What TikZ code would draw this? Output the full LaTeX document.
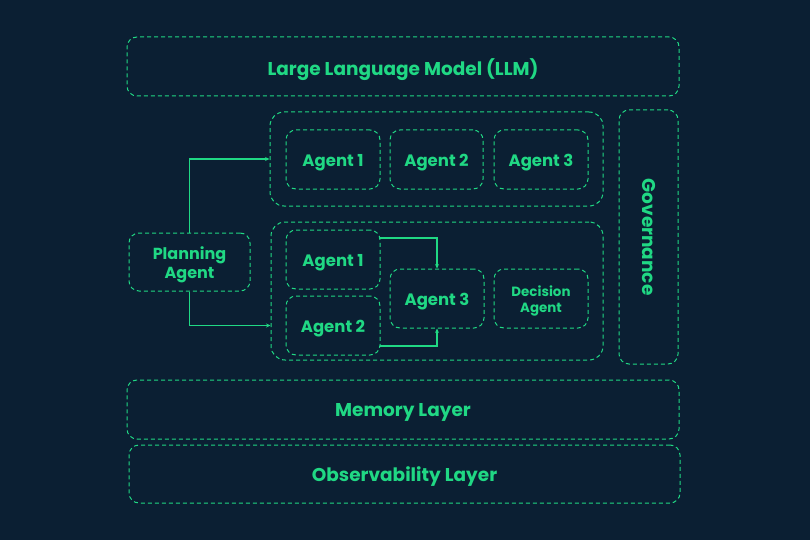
\documentclass[tikz,border=0pt]{standalone}
\usepackage{fontspec}
\setmainfont{Poppins}[BoldFont={Poppins Bold}]
\usetikzlibrary{arrows.meta,calc}
\definecolor{bg}{HTML}{0B1F33}
\definecolor{gr}{HTML}{20D884}
\tikzset{
  box/.style={draw=gr,line width=1pt,dash pattern=on 4pt off 3pt,rounded corners=10pt,inner sep=0pt},
  txt/.style={text=gr,align=center,inner sep=0pt,yshift=-3pt,font=\bfseries\fontsize{16.5}{19}\selectfont},
  big/.style={font=\bfseries\fontsize{18.5}{22}\selectfont},
  grp/.style={draw=gr,line width=1pt,dash pattern=on 4pt off 3pt,rounded corners=14pt,inner sep=0pt},
  conn/.style={draw=gr,line width=1.1pt,-{Stealth[length=4.5pt,width=4pt]}},
}
\begin{document}
\begin{tikzpicture}[x=1pt,y=-1pt]
\fill[bg] (0,0) rectangle (810,540);
\useasboundingbox (0,0) rectangle (810,540);
\node[box,minimum width=552,minimum height=59] (llm) at (403,66.5) {};
\node[txt,big] (llmt) at (llm.center) {Large Language Model (LLM)};
\node[grp,minimum width=333,minimum height=94] (tg) at (436.5,159) {};
\node[box,minimum width=94,minimum height=59] (t1) at (333,159.5) {};
\node[txt] (t1t) at (t1.center) {Agent 1};
\node[box,minimum width=93,minimum height=59] (t2) at (436.5,159.5) {};
\node[txt] (t2t) at (t2.center) {Agent 2};
\node[box,minimum width=94,minimum height=59] (t3) at (541,159.5) {};
\node[txt] (t3t) at (t3.center) {Agent 3};
\node[grp,minimum width=332,minimum height=138] (bg) at (437,291) {};
\node[box,minimum width=94,minimum height=59] (b1) at (333,259.5) {};
\node[txt] (b1t) at (b1.center) {Agent 1};
\node[box,minimum width=94,minimum height=59] (b2) at (333,325.5) {};
\node[txt] (b2t) at (b2.center) {Agent 2};
\node[box,minimum width=94,minimum height=59] (b3) at (437,298.5) {};
\node[txt] (b3t) at (b3.center) {Agent 3};
\node[box,minimum width=94,minimum height=59] (dec) at (541,298.5) {};
\node[txt,yshift=1pt,font=\bfseries\fontsize{13.4}{16}\selectfont] (dect) at (dec.center) {Decision\\Agent};
\node[box,minimum width=121,minimum height=58] (plan) at (189.5,262) {};
\node[txt,yshift=0.5pt,font=\bfseries\fontsize{16}{19}\selectfont] (plant) at (plan.center) {Planning\\Agent};
\node[box,minimum width=59,minimum height=254] (gov) at (648.5,237) {};
\node[text=gr,big,rotate=-90] (govt) at (gov.center) {Governance};
\node[box,minimum width=552,minimum height=59] (mem) at (403,409.5) {};
\node[txt,big] (memt) at (mem.center) {Memory Layer};
\node[box,minimum width=551,minimum height=58] (obs) at (404.5,474) {};
\node[txt,big] (obst) at (obs.center) {Observability Layer};
\draw[conn] (plan.north) |- (tg.west);
\draw[conn] (plan.south) |- (bg.west |- b2.west);
\coordinate (s1) at (380,238);
\coordinate (s2) at (380,346);
\draw[conn] (s1) -| (b3.north);
\draw[conn] (s2) -| (b3.south);
\end{tikzpicture}
\end{document}
